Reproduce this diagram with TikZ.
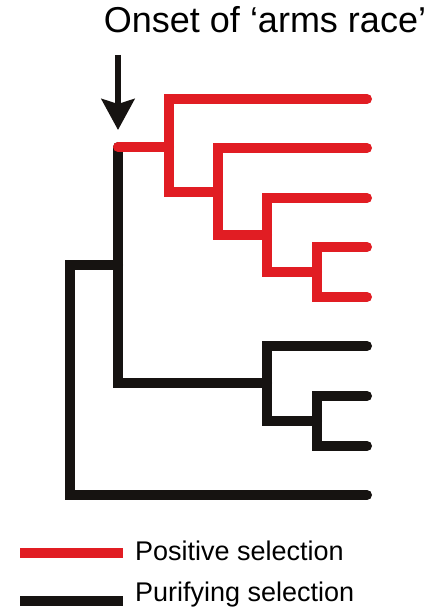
\documentclass[tikz,border=0pt]{standalone}
\usepackage{fontspec}
\setmainfont{Liberation Sans}
\usetikzlibrary{arrows.meta}
\definecolor{posred}{RGB}{225,29,35}
\definecolor{purblack}{RGB}{22,19,17}

\begin{document}
\begin{tikzpicture}[x=1pt,y=-1pt,
	branch/.style={line width=10pt,line cap=round},
	posbranch/.style={branch,posred},
	purbranch/.style={branch,purblack},
	legendkey/.style={line width=10pt},
	legendtext/.style={anchor=base west,inner sep=0pt,font=\fontsize{27}{31}\selectfont}]
		\useasboundingbox (0,0) rectangle (430,612);
		% leaves
		\foreach \n/\y in {1/99,2/148,3/198,4/247,5/297,6/346,7/396,8/446,9/495}
		\coordinate (L\n) at (367,\y);
		% inner nodes
		\coordinate (N1) at (317,272);
		\coordinate (N2) at (267,235);
		\coordinate (N3) at (218,192);
		\coordinate (N4) at (169,147);
		\coordinate (N5) at (118,265);
		\coordinate (N6) at (267,383);
		\coordinate (N7) at (317,421);
		\coordinate (root) at (70,380);
		\coordinate (onset) at (N5 |- N4);
		\coordinate (arrowtop) at (118,55);

		% purifying part
		\draw[purbranch] (root) |- (N5);
		\draw[purbranch] (root) |- (L9);
		\draw[purbranch] (N5) -- (onset);
		\draw[purbranch] (N5) |- (N6);
		\draw[purbranch] (N6) |- (L6);
		\draw[purbranch] (N6) |- (N7);
		\draw[purbranch] (N7) |- (L7);
		\draw[purbranch] (N7) |- (L8);

		% positive part
		\draw[posbranch] (onset) -- (N4);
		\draw[posbranch] (N4) |- (L1);
		\draw[posbranch] (N4) |- (N3);
		\draw[posbranch] (N3) |- (L2);
		\draw[posbranch] (N3) |- (N2);
		\draw[posbranch] (N2) |- (L3);
		\draw[posbranch] (N2) |- (N1);
		\draw[posbranch] (N1) |- (L4);
		\draw[posbranch] (N1) |- (L5);

		\node[anchor=base,inner sep=0pt,font=\fontsize{36}{41}\selectfont] (title) at (265,33) {Onset of ‘arms race’};
		\draw[purblack,line width=6pt,-{Stealth[width=33pt,length=31pt,inset=5pt]},shorten >=17pt] (arrowtop) -- (onset);

		% legend
		\node[legendtext] (poslabel) at (135,560) {Positive selection};
		\node[legendtext] (purlabel) at (135,601) {Purifying selection};
		\draw[legendkey,posred] (20,553) -- (123,553);
		\draw[legendkey,purblack] (20,601) -- (123,601);
	    \end{tikzpicture}
\end{document}
